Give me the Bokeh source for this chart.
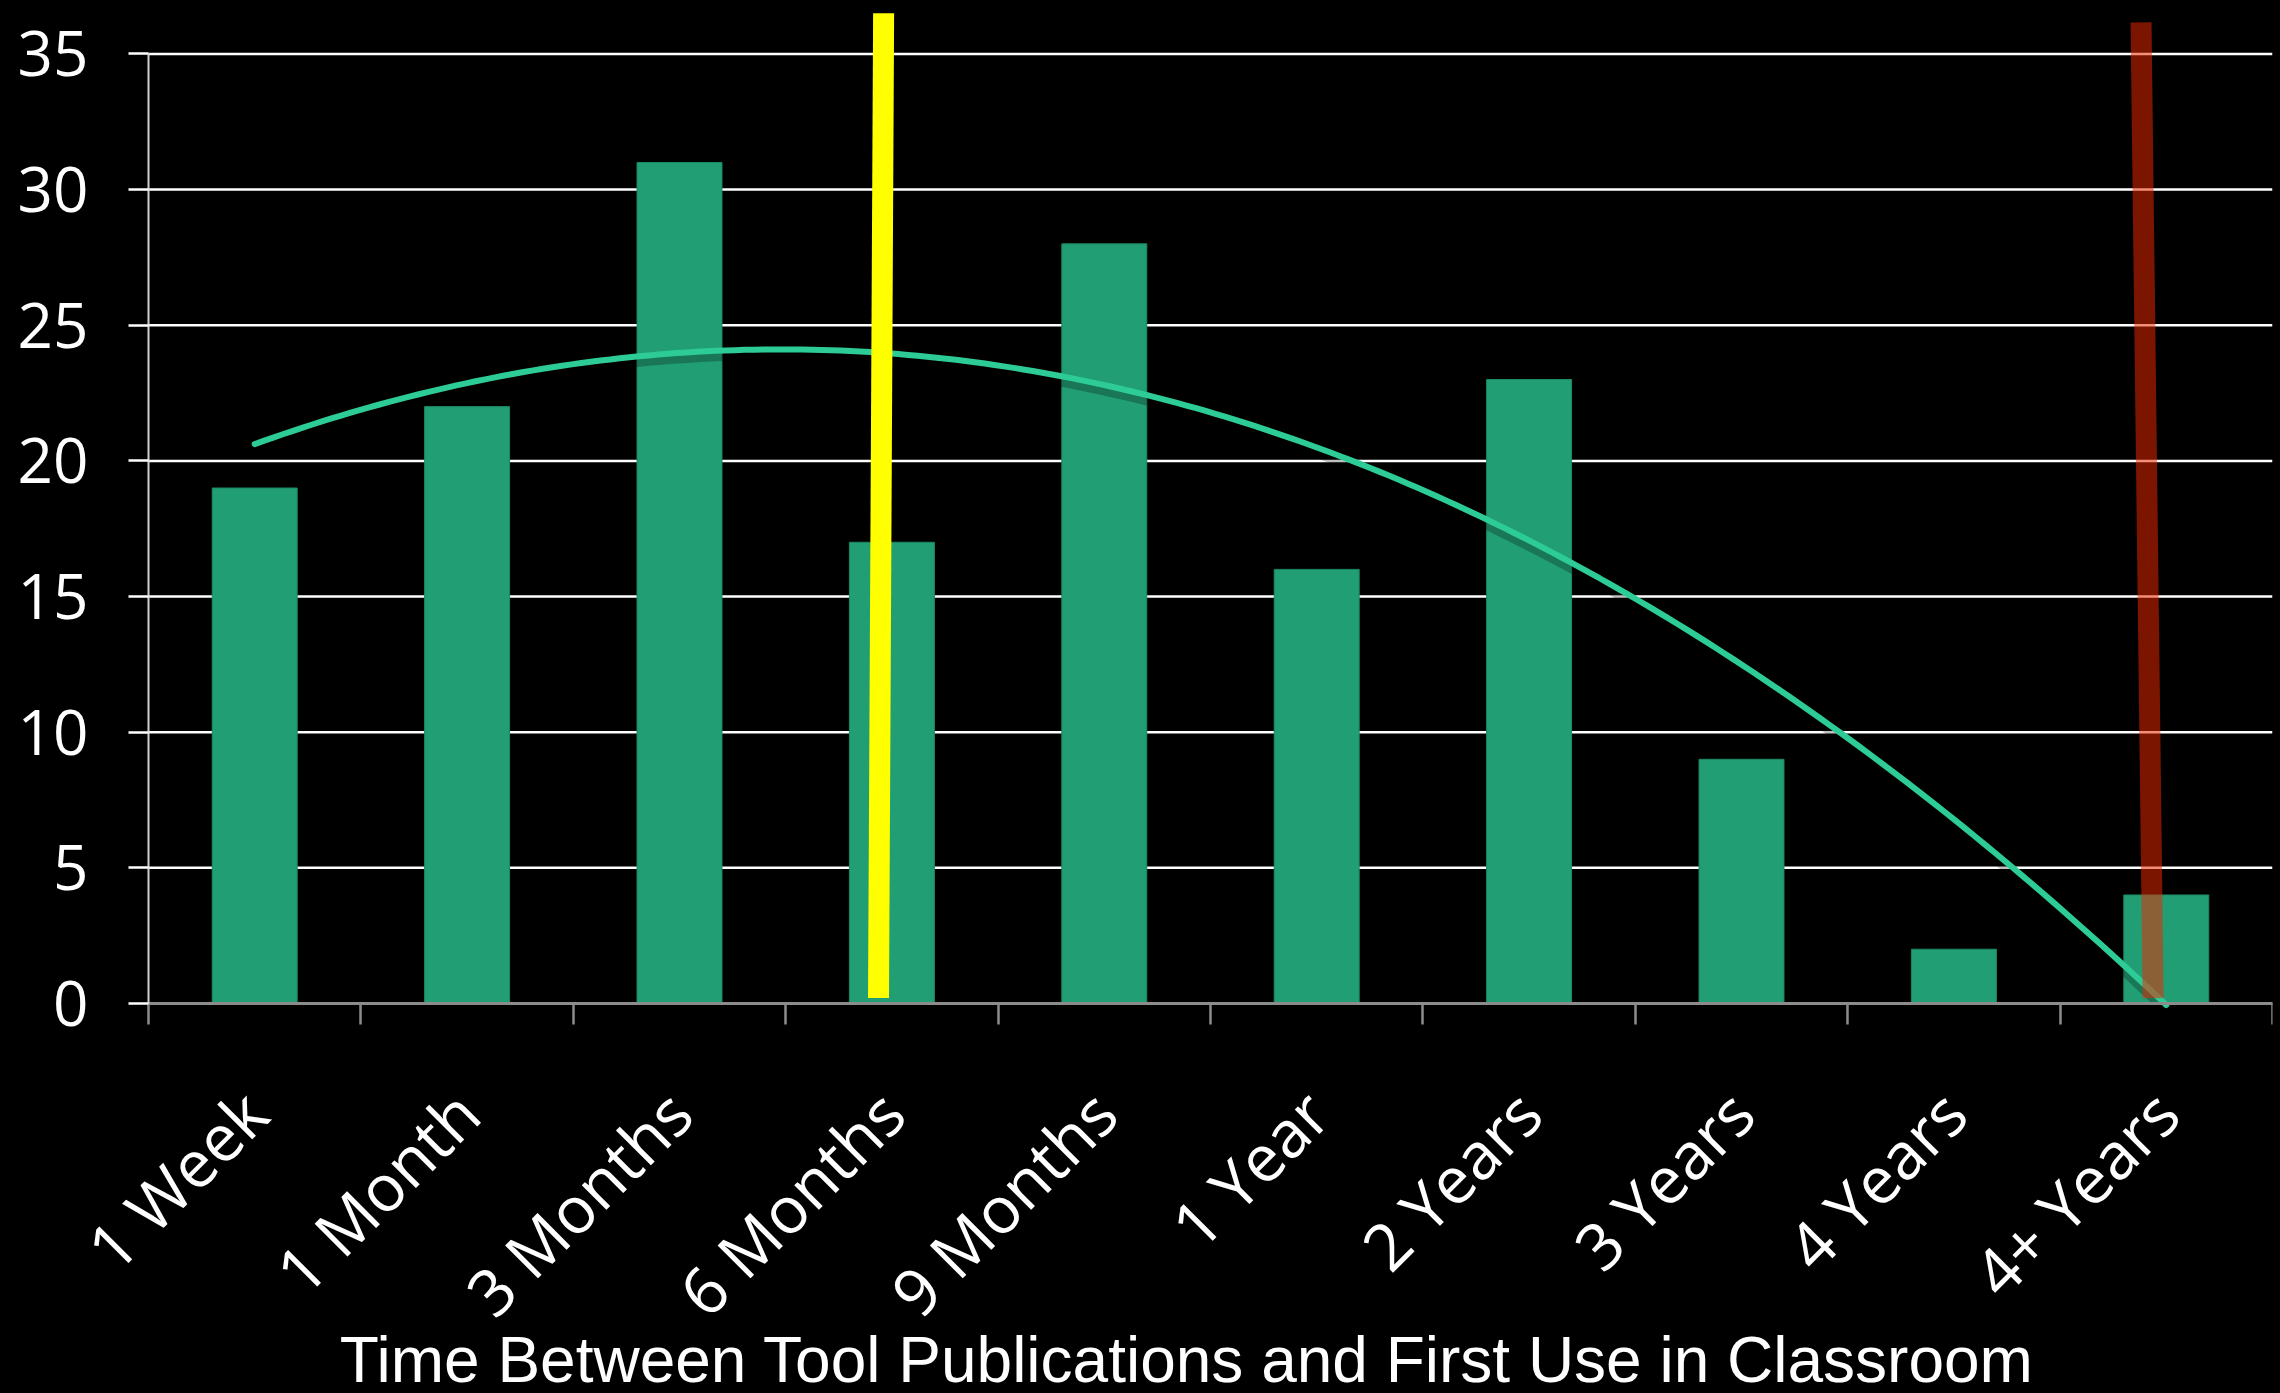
import numpy as np
from bokeh.plotting import figure
from bokeh.models import (Range1d, FixedTicker, LinearAxis, Label,
                          ColumnDataSource)
from bokeh.embed import file_html
from bokeh.resources import INLINE

# Survey counts per delay bucket
categories = ["1 Week", "1 Month", "3 Months", "6 Months", "9 Months",
              "1 Year", "2 Years", "3 Years", "4 Years", "4+ Years"]
counts = [19, 22, 31, 17, 28, 16, 23, 9, 2, 4]
y_ticks = [0, 5, 10, 15, 20, 25, 30, 35]
x_title = "Time Between Tool Publications and First Use in Classroom"

# Hand-drawn marker strokes (x in category slots, y in counts)
yellow_x = [3.961, 3.937]
yellow_y = [36.5, 0.2]
red_x = [9.881, 9.938]
red_y = [36.16, 0.2]

n = len(categories)
xs = np.arange(1, n + 1)
boundaries = [i + 0.5 for i in range(n + 1)]
x_lo, x_hi = 0.5, n + 0.5

# the frame fills the whole canvas; both axes are pinned inside it so the
# rotated category labels, value labels and axis title are never clipped
p = figure(width=2280, height=1393,
           x_range=Range1d(x_lo - 0.6968, x_hi), y_range=Range1d(-14.377, 36.97),
           x_axis_type=None, y_axis_type=None,
           output_backend="svg", toolbar_location=None,
           min_border_left=0, min_border_right=8,
           min_border_top=0, min_border_bottom=0,
           background_fill_color="black", border_fill_color="black",
           outline_line_color=None)
p.styles = {"background-color": "#000"}

# horizontal gridlines across the plotting area only
p.segment(x0=[x_lo] * len(y_ticks), x1=[x_hi] * len(y_ticks),
          y0=y_ticks, y1=y_ticks, line_color="white", line_width=2.5)

# value axis
yaxis = LinearAxis(ticker=FixedTicker(ticks=y_ticks), bounds=(0, 35),
                   fixed_location=x_lo,
                   axis_line_color="#d0d0d0", axis_line_width=2,
                   major_tick_out=20, major_tick_in=0,
                   major_tick_line_color="white", major_tick_line_width=2.5,
                   minor_tick_line_color=None,
                   major_label_standoff=40,
                   major_label_text_color="white",
                   major_label_text_font="Open Sans",
                   major_label_text_font_size="62px")
p.add_layout(yaxis, "left")

# category axis: labels at bucket centres, tick marks between buckets
xaxis = LinearAxis(ticker=FixedTicker(ticks=list(xs), minor_ticks=boundaries),
                   fixed_location=0, bounds=(x_lo, x_hi),
                   major_label_overrides={int(x): c for x, c in zip(xs, categories)},
                   major_label_orientation=np.pi / 4,
                   major_label_standoff=77,
                   major_label_text_color="white",
                   major_label_text_font="Open Sans",
                   major_label_text_font_size="65px",
                   axis_line_color="#8c8c8c", axis_line_width=3,
                   major_tick_line_color=None,
                   minor_tick_out=21, minor_tick_in=0,
                   minor_tick_line_color="#8c8c8c", minor_tick_line_width=2.5)
p.add_layout(xaxis, "below")

p.add_layout(Label(x=5.389, y=-13.16, text=x_title,
                   text_align="center", text_baseline="alphabetic",
                   text_color="white", text_font="Liberation Sans",
                   text_font_size="64px"))

src = ColumnDataSource(dict(x=xs, count=counts))

p.vbar(x="x", top="count", width=0.4, source=src,
       fill_color="#229E74", line_color="#1C8A63", line_width=1)

# second-order polynomial trendline through the counts
coef = np.polyfit(xs, counts, 2)
tx = np.linspace(1, n, 200)
ty = np.polyval(coef, tx)
p.line(tx, ty - 0.22, line_color="black", line_alpha=0.25, line_width=9)
p.line(tx, ty, line_color="#2DCB95", line_width=6, line_cap="round")

# marker strokes
p.line(yellow_x, yellow_y, line_color="#FFFF00", line_width=21, line_cap="butt")
p.line(red_x, red_y, line_color="#EB2800", line_alpha=0.52, line_width=21,
       line_cap="butt")

html = file_html(p, INLINE)
html = html.replace("<body>", '<body style="margin:0;background:#000;">', 1)
open("out.html", "w").write(html)
